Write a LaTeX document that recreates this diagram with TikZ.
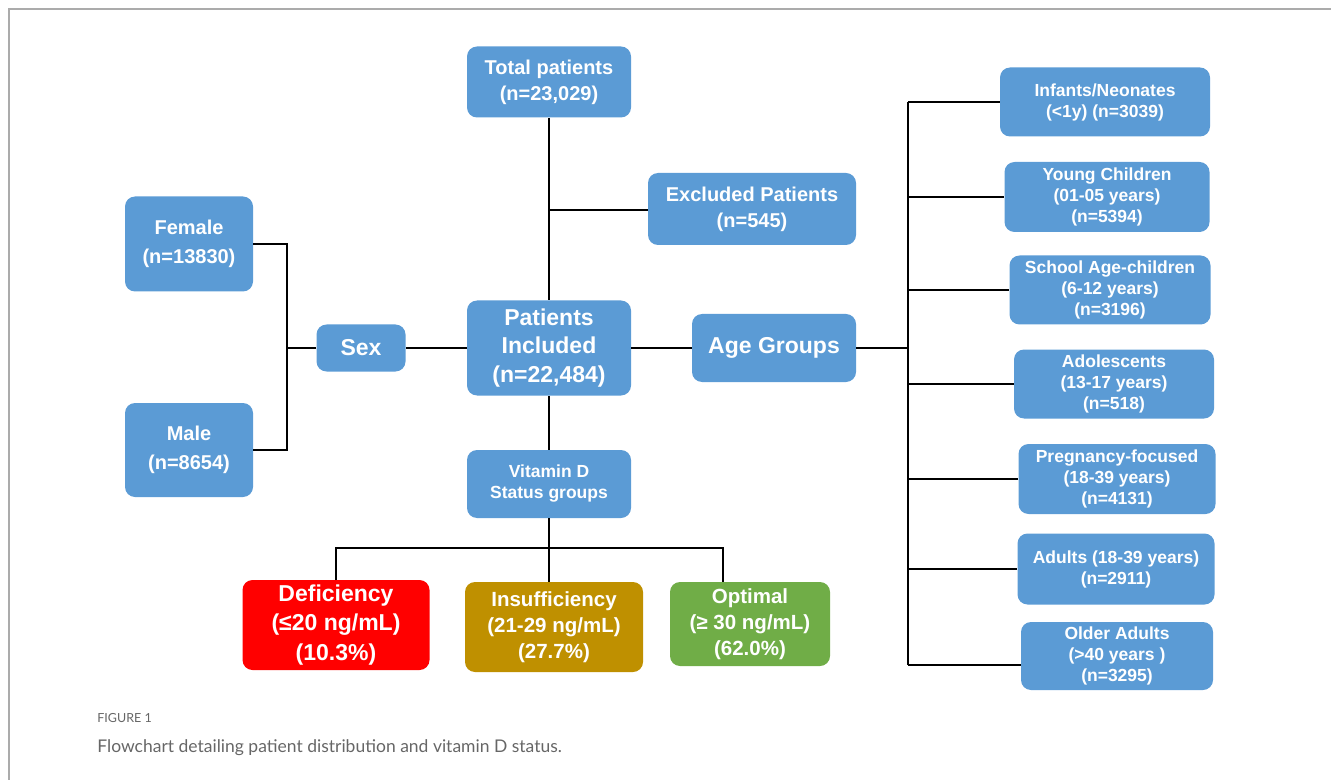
\documentclass[tikz,border=0pt]{standalone}
\usepackage{fontspec}
\setmainfont{Liberation Sans}
\newfontfamily\capfont{Lato}

\definecolor{boxblue}{HTML}{5B9BD5}
\definecolor{defred}{HTML}{FF0000}
\definecolor{insgold}{HTML}{BF9000}
\definecolor{optgreen}{HTML}{70AD47}
\definecolor{capgray}{HTML}{666666}
\definecolor{framegray}{HTML}{ABABAB}

\begin{document}
\begin{tikzpicture}[x=0.5pt,y=-0.5pt,
  box/.style={fill=boxblue,text=white,rounded corners=5pt,align=center,inner sep=0pt},
  link/.style={line width=1.25pt},
  big/.style={font=\fontsize{11.5}{14.25}\selectfont\bfseries},
  mid/.style={font=\fontsize{10}{13}\selectfont\bfseries},
  small/.style={font=\fontsize{8.75}{10.5}\selectfont\bfseries}]
\useasboundingbox (0,0) rectangle (1331,780);
\draw[framegray,line width=1pt] (9,780) -- (9,9) -- (1331,9);

% main column
\node[box,mid,minimum width=82pt,minimum height=35.5pt] (total) at (549,82) {Total patients\\(n=23,029)};
\node[box,mid,minimum width=104pt,minimum height=36pt] (excl) at (752,209) {Excluded Patients\\(n=545)};
\node[box,big,minimum width=82pt,minimum height=47.5pt] (incl) at (549,348) {Patients\\Included\\(n=22,484)};
\node[box,small,minimum width=82pt,minimum height=34pt] (vitd) at (549,484) {Vitamin D\\Status groups};

% sex
\node[box,big,minimum width=44.5pt,minimum height=23.5pt] (sex) at (361,348) {Sex};
\node[box,font=\fontsize{10}{14.5}\selectfont\bfseries,minimum width=64pt,minimum height=47.5pt] (female) at (189,244) {Female\\(n=13830)};
\node[box,font=\fontsize{10}{14.5}\selectfont\bfseries,minimum width=64pt,minimum height=47pt] (male) at (189,450) {Male\\(n=8654)};

% age groups
\node[box,big,minimum width=82pt,minimum height=34pt] (agegrp) at (774,348) {Age Groups};
\node[box,small,minimum width=105pt,minimum height=34.5pt] (infants) at (1105,102) {Infants/Neonates\\(<1y) (n=3039)};
\node[box,small,minimum width=102.5pt,minimum height=35pt] (young) at (1107,197) {Young Children\\(01-05 years)\\(n=5394)};
\node[box,small,minimum width=100.5pt,minimum height=34.5pt] (school) at (1110,290) {School Age-children\\(6-12 years)\\(n=3196)};
\node[box,small,minimum width=100pt,minimum height=34.5pt] (adol) at (1114,384) {Adolescents\\(13-17 years)\\(n=518)};
\node[box,small,minimum width=98.5pt,minimum height=35pt] (preg) at (1117,479) {Pregnancy-focused\\(18-39 years)\\(n=4131)};
\node[box,small,minimum width=98.5pt,minimum height=35.5pt] (adults) at (1116,569) {Adults (18-39 years)\\(n=2911)};
\node[box,small,minimum width=96pt,minimum height=34pt] (older) at (1117,656) {Older Adults\\(>40 years )\\(n=3295)};

% vitamin D status
\node[box,fill=defred,font=\fontsize{11.5}{14.75}\selectfont\bfseries,minimum width=93.5pt,minimum height=45pt] (defic) at (336,625) {Deficiency\\(≤20 ng/mL)\\(10.3\%)};
\node[box,fill=insgold,font=\fontsize{10.25}{13}\selectfont\bfseries,minimum width=89pt,minimum height=45pt] (insuf) at (554,627) {Insufficiency\\(21-29 ng/mL)\\(27.7\%)};
\node[box,fill=optgreen,font=\fontsize{10.25}{13}\selectfont\bfseries,minimum width=80pt,minimum height=42pt] (optim) at (750,624) {Optimal\\(≥ 30 ng/mL)\\(62.0\%)};

\coordinate (exclj) at (549,210);
\coordinate (sexj) at (287,348);
\coordinate (agej) at (908,348);
\coordinate (vitj) at (549,548);
\coordinate (optj) at (723,548);

% connectors
\draw[link] (total) -- (incl);
\draw[link] (exclj) -- (excl.west |- exclj);
\draw[link] (incl) -- (sex);
\draw[link] (sex) -- (sexj);
\draw[link] (female.east) -| (sexj) |- (male.east);
\draw[link] (incl) -- (agegrp);
\draw[link] (agegrp) -- (agej);
\draw[link] (infants.west -| agej) -- ([yshift=-4.5pt]older.west -| agej);
\foreach \g in {infants,young,school,adol,preg,adults}
  \draw[link] (\g.west -| agej) -- (\g.west);
\draw[link] ([yshift=-4.5pt]older.west -| agej) -- ([yshift=-4.5pt]older.west);
\draw[link] (incl) -- (vitd);
\draw[link] (vitd.south) -- (vitj);
\draw[link] (defic.north) |- (optj) -- (optj |- optim.north);
\draw[link] (vitj) -- (vitj |- insuf.north);

% caption
\node[anchor=base west,inner sep=0pt,text=capgray,font=\capfont\fontsize{6.25}{7.5}\selectfont] (figlbl) at (97,722) {FIGURE 1};
\node[anchor=base west,inner sep=0pt,text=capgray,font=\capfont\fontsize{8.75}{10}\selectfont] (figcap) at (97,752) {Flowchart detailing patient distribution and vitamin D status.};
\end{tikzpicture}
\end{document}
